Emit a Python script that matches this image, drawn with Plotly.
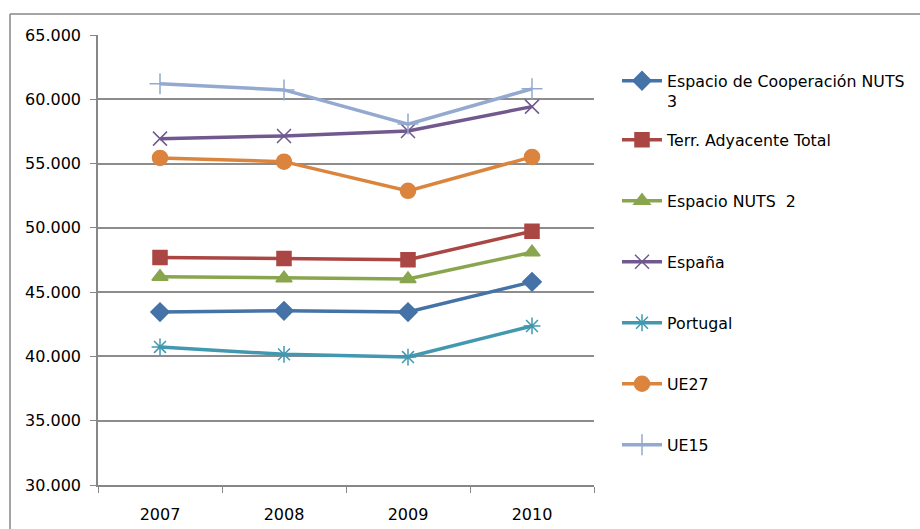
import plotly.graph_objects as go

# Data
years = ["2007", "2008", "2009", "2010"]

coop_nuts3 = [43450, 43550, 43450, 45800]
terr_adyacente = [47700, 47620, 47520, 49740]
espacio_nuts2 = [46200, 46090, 46030, 48100]
espana = [56940, 57150, 57540, 59430]
portugal = [40740, 40160, 39950, 42370]
ue27 = [55440, 55150, 52880, 55520]
ue15 = [61200, 60730, 58070, 60810]

series_names = [
    "Espacio de Cooperación NUTS<br>3",
    "Terr. Adyacente Total",
    "Espacio NUTS  2",
    "España",
    "Portugal",
    "UE27",
    "UE15",
]
series_values = [coop_nuts3, terr_adyacente, espacio_nuts2, espana, portugal, ue27, ue15]
colors = ["#4572A7", "#AA4643", "#89A54E", "#71588F", "#4198AF", "#DB843D", "#93A9CF"]
symbols = ["diamond", "square", "triangle-up", "x-thin-open", "asterisk-open", "circle", "cross-thin-open"]
sizes = [14, 14, 14, 14, 14, 15, 15]

# plot area in pixels (for placing legends and frame)
L, R, T, B = 98, 594, 35, 485
W, H = 920, 529


def px_x(px):
    return (px - L) / (R - L)


def px_y(py):
    return (B - py) / (B - T)


legend_centers = [76, 140, 201, 262, 323, 384, 445]

fig = go.Figure()
layout_legends = {}
for i, (name, vals) in enumerate(zip(series_names, series_values)):
    leg = "legend" if i == 0 else f"legend{i + 1}"
    fig.add_trace(go.Scatter(
        x=years, y=vals, name=name, mode="lines+markers",
        line=dict(color=colors[i], width=3.5),
        marker=dict(symbol=symbols[i], size=sizes[i], color=colors[i],
                    line=dict(color=colors[i], width=1.5)),
        legend=leg,
    ))
    if i == 0:
        ly, yanchor = px_y(legend_centers[i] - 12), "top"
    else:
        ly, yanchor = px_y(legend_centers[i]), "middle"
    layout_legends[leg] = dict(
        x=px_x(617), xanchor="left", y=ly, yanchor=yanchor,
        font=dict(family="DejaVu Sans", size=15.8, color="#000000"),
        bgcolor="rgba(0,0,0,0)", valign="top", itemwidth=40,
    )

fig.update_layout(
    width=W, height=H,
    margin=dict(l=L, r=W - R, t=T, b=H - B, autoexpand=False),
    plot_bgcolor="white", paper_bgcolor="white",
    font=dict(family="DejaVu Sans", size=16, color="#000000"),
    separators=",.",
    showlegend=True,
    **layout_legends,
)

fig.update_xaxes(
    type="category", range=[-0.5, 3.5], automargin=False,
    showline=True, linecolor="#878787", linewidth=1.5,
    ticks="outside", tickson="boundaries", ticklen=6, tickcolor="#878787",
    showgrid=False, tickfont=dict(size=16), ticklabelstandoff=14,
)
fig.update_yaxes(
    range=[30000, 65000], dtick=5000, tickformat=",d", automargin=False,
    showline=True, linecolor="#878787", linewidth=1.5,
    ticks="outside", ticklen=6, tickcolor="#878787",
    showgrid=True, gridcolor="#8c8c8c", gridwidth=1.5,
    zeroline=False, tickfont=dict(size=16), ticklabelstandoff=6,
)

# outer chart frame (Excel chart area border)
fig.add_shape(type="line", xref="paper", yref="paper",
              x0=px_x(10), x1=px_x(W + 5), y0=px_y(14), y1=px_y(14),
              line=dict(color="#878787", width=1.5))
fig.add_shape(type="line", xref="paper", yref="paper",
              x0=px_x(10), x1=px_x(10), y0=px_y(14), y1=px_y(H + 5),
              line=dict(color="#878787", width=1.5))

# drop the default body margin so the figure sits at the page corner
fig.write_html("out.html", config={"displayModeBar": False},
               post_script="document.body.style.margin='0';")
